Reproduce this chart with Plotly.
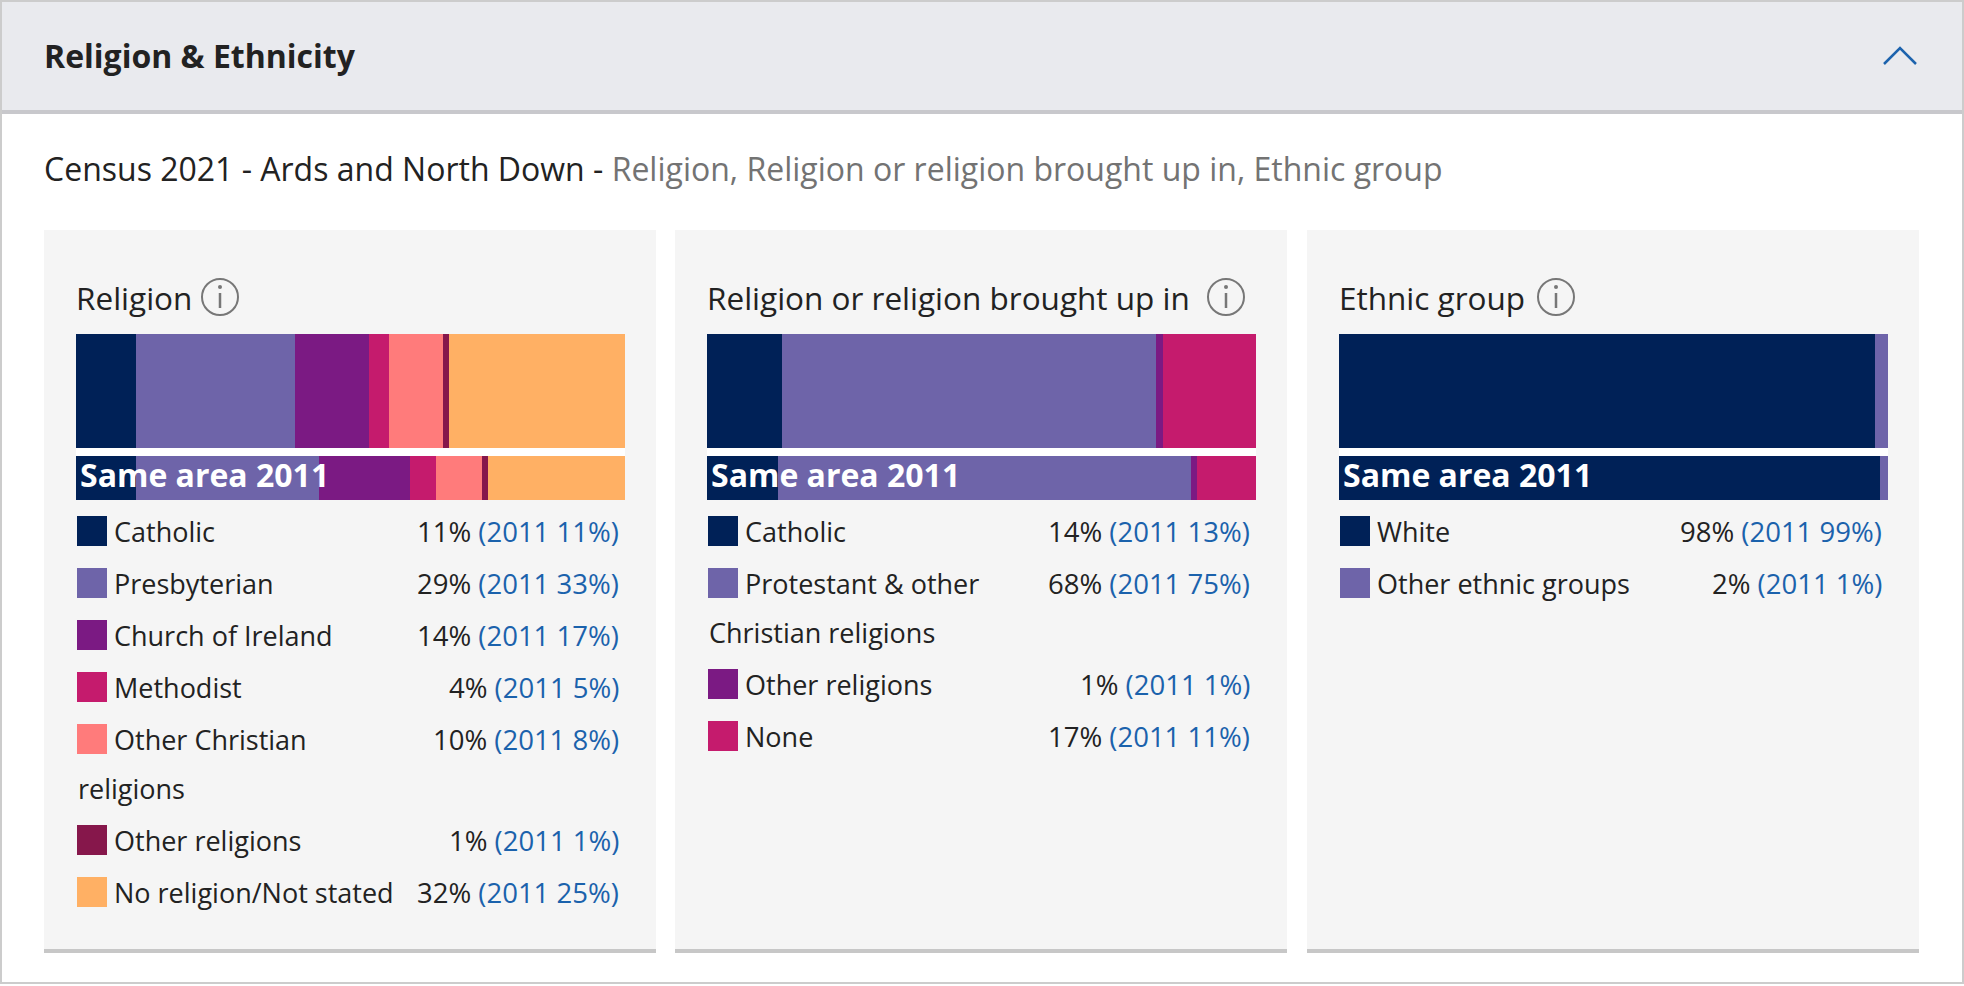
import plotly.graph_objects as go

W, H = 1964, 986

# ---- data ----
religion_labels = ["Catholic", "Presbyterian", "Church of Ireland", "Methodist",
                   "Other Christian\nreligions", "Other religions", "No religion/Not stated"]
religion_2021 = [11.0, 28.8, 13.6, 3.7, 9.8, 1.1, 32.0]
religion_2011 = [11.0, 33.2, 16.6, 4.7, 8.4, 1.1, 25.0]
religion_colors = ["#002157", "#6e64a9", "#7b1a83", "#c51b6d", "#ff7b7b", "#86174b", "#ffb064"]

brought_labels = ["Catholic", "Protestant & other\nChristian religions", "Other religions", "None"]
brought_2021 = [13.6, 68.1, 1.3, 17.0]
brought_2011 = [13.0, 75.1, 1.1, 10.8]
brought_colors = ["#002157", "#6e64a9", "#7b1a83", "#c51b6d"]

ethnic_labels = ["White", "Other ethnic groups"]
ethnic_2021 = [97.6, 2.4]
ethnic_2011 = [98.6, 1.4]
ethnic_colors = ["#002157", "#6e64a9"]

panel_titles = ["Religion", "Religion or religion brought up in", "Ethnic group"]

FONT = "Open Sans"
BLUE = "#1b62ac"
DARK = "#222222"


def fx(x):
    return x / W


def fy(y):
    return 1 - y / H


def rect(x0, y0, x1, y1, fill, line=None, width=0, layer="below"):
    return dict(type="rect", xref="paper", yref="paper",
                x0=fx(x0), x1=fx(x1), y0=fy(y1), y1=fy(y0),
                fillcolor=fill, line=dict(color=line or fill, width=width), layer=layer)


def text(x, y, s, size, color=DARK, anchor="left"):
    return dict(xref="paper", yref="paper", x=fx(x), y=fy(y), text=s, showarrow=False,
                xanchor=anchor, yanchor="middle", align=anchor,
                font=dict(family=FONT, size=size, color=color))


fig = go.Figure()
shapes = []
annotations = []

# page frame and header
shapes.append(rect(1, 1, 1963, 983, "white", "#cccccc", 2))
shapes.append(rect(2, 2, 1962, 110, "#e9eaee"))
shapes.append(rect(2, 110, 1962, 114, "#c8c8cc"))
annotations.append(text(42, 56, "<b>Religion & Ethnicity</b>", 32, "#222222"))
shapes.append(dict(type="path", xref="paper", yref="paper",
                   path=f"M {fx(1884)} {fy(64)} L {fx(1900)} {fy(48)} L {fx(1916)} {fy(64)}",
                   line=dict(color="#1d63ad", width=2.5)))
annotations.append(text(42, 168, "Census 2021 - Ards and North Down - "
                        "<span style='color:#737373'>Religion, Religion or religion brought up in, "
                        "Ethnic group</span>", 32, "#222222"))

panels = [
    (religion_labels, religion_2021, religion_2011, religion_colors, 44, 220),
    (brought_labels, brought_2021, brought_2011, brought_colors, 675, 1226),
    (ethnic_labels, ethnic_2021, ethnic_2011, ethnic_colors, 1307, 1556),
]

PW = 612
ROW0, ROW_H, WRAP_H = 531, 52, 49

for i, (labels, v21, v11, colors, left, icon_x) in enumerate(panels):
    right = left + PW
    bx0, bx1 = left + 32, right - 31
    shapes.append(rect(left, 230, right, 949, "#f5f5f5"))
    shapes.append(rect(left, 949, right, 953, "#c7c7c7"))
    shapes.append(rect(bx0, 334, bx1, 500, "white"))

    annotations.append(text(bx0 - 2, 297, panel_titles[i], 31.5, DARK))
    # info icon
    shapes.append(dict(type="circle", xref="paper", yref="paper",
                       x0=fx(icon_x - 18), x1=fx(icon_x + 18), y0=fy(315), y1=fy(279),
                       line=dict(color="#777777", width=2), layer="above"))
    shapes.append(dict(type="circle", xref="paper", yref="paper",
                       x0=fx(icon_x - 2), x1=fx(icon_x + 2), y0=fy(289), y1=fy(285),
                       fillcolor="#777777", line=dict(color="#777777", width=0)))
    shapes.append(dict(type="line", xref="paper", yref="paper",
                       x0=fx(icon_x), x1=fx(icon_x), y0=fy(293), y1=fy(308),
                       line=dict(color="#777777", width=2.5)))

    # two stacked bars, each in its own axes
    for k, (vals, y0, y1) in enumerate([(v21, 334, 448), (v11, 456, 500)]):
        n = 2 * i + k + 1
        xa = "x" if n == 1 else f"x{n}"
        ya = "y" if n == 1 else f"y{n}"
        fig.layout["xaxis" if n == 1 else f"xaxis{n}"] = dict(
            domain=[fx(bx0), fx(bx1)], range=[0, 100], visible=False, fixedrange=True, anchor=ya)
        fig.layout["yaxis" if n == 1 else f"yaxis{n}"] = dict(
            domain=[fy(y1), fy(y0)], range=[-0.5, 0.5], visible=False, fixedrange=True, anchor=xa)
        for lab, v, c in zip(labels, vals, colors):
            fig.add_trace(go.Bar(x=[v], y=[0], orientation="h", width=1, xaxis=xa, yaxis=ya,
                                 marker=dict(color=c, line=dict(width=0)),
                                 name=lab.replace("\n", " "), hoverinfo="name+x", showlegend=False))

    annotations.append(text(bx0 + 2, 474, "<b>Same area 2011</b>", 32, "white"))

    # legend rows
    y = ROW0
    for lab, a, b, c in zip(labels, v21, v11, colors):
        lines = lab.split("\n")
        shapes.append(rect(bx0 + 1, y - 15, bx0 + 31, y + 15, c, layer="above"))
        annotations.append(text(bx0 + 36, y, lines[0], 27, DARK))
        annotations.append(text(bx1 - 4, y,
                                f"{round(a)}% <span style='color:{BLUE}'>(2011 {round(b)}%)</span>",
                                27.5, DARK, anchor="right"))
        for extra in lines[1:]:
            y += WRAP_H
            annotations.append(text(bx0, y, extra, 27, DARK))
        y += ROW_H

fig.update_layout(
    width=W, height=H, margin=dict(l=0, r=0, t=0, b=0),
    barmode="stack", paper_bgcolor="white", plot_bgcolor="rgba(0,0,0,0)",
    shapes=shapes, annotations=annotations, showlegend=False,
    font=dict(family=FONT),
)

fig.write_html("out.html", config={"displayModeBar": False},
               post_script="document.body.style.margin='0';")
